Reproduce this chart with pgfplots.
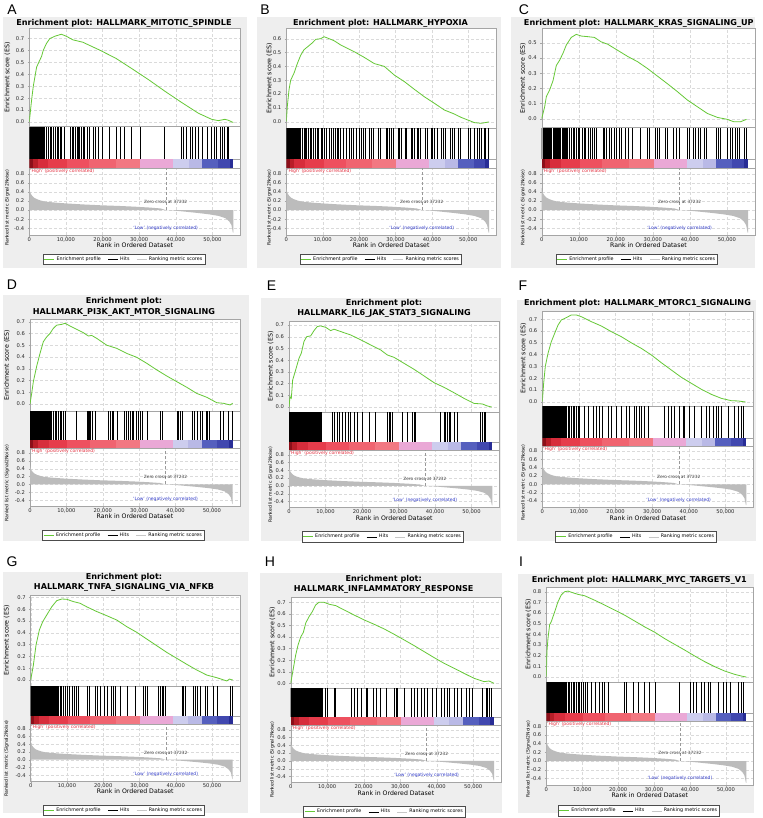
\documentclass[border=0pt]{standalone}
\usepackage{fontspec}
\setmainfont{DejaVu Sans}
\newfontfamily\letterfont{Liberation Sans}
\usepackage{pgfplots}
\usepackage{pgfplotstable}
\pgfplotsset{compat=1.18}

\definecolor{esgreen}{RGB}{102,200,55}
\definecolor{bggray}{RGB}{238,238,238}
\definecolor{framegray}{RGB}{165,165,165}
\definecolor{gridgray}{RGB}{218,218,218}
\definecolor{fillgray}{RGB}{188,188,188}
\definecolor{hired}{RGB}{228,50,65}
\definecolor{lowblue}{RGB}{50,60,200}
\definecolor{cbA}{RGB}{140,15,25}
\definecolor{cbB}{RGB}{185,30,40}
\definecolor{cbC}{RGB}{215,45,60}
\definecolor{cbD}{RGB}{230,60,75}
\definecolor{cbE}{RGB}{238,80,95}
\definecolor{cbF}{RGB}{240,100,112}
\definecolor{cbG}{RGB}{242,120,130}
\definecolor{cbH}{RGB}{234,168,214}
\definecolor{cbI}{RGB}{205,205,238}
\definecolor{cbJ}{RGB}{185,185,230}
\definecolor{cbK}{RGB}{85,95,190}
\definecolor{cbL}{RGB}{65,72,175}
\definecolor{cbM}{RGB}{40,45,150}

% ---------------- data (rank in ordered dataset, N = 55700) ----------------
\pgfplotstableread{
x y
0 0
0 0.49
150 0.42
410 0.36
820 0.31
1330 0.27
2050 0.24
3070 0.21
4100 0.19
5630 0.175
7680 0.16
10240 0.145
14340 0.125
19450 0.105
24580 0.09
28670 0.075
32770 0.055
35840 0.035
37232 0
39400 -0.01
42500 -0.035
46080 -0.065
49150 -0.095
51710 -0.13
53550 -0.18
54580 -0.25
55190 -0.33
55600 -0.5
55700 -0.5
55700 0
}\rankdata

\pgfplotstableread[row sep=\\]{x y\\0 0\\610 0.18\\1090 0.30\\1990 0.46\\2870 0.52\\3340 0.55\\3790 0.60\\4690 0.66\\5590 0.70\\6940 0.72\\8760 0.737\\10110 0.72\\11910 0.69\\14610 0.67\\19130 0.605\\23630 0.535\\28150 0.445\\32660 0.353\\37170 0.255\\41680 0.162\\46180 0.073\\49800 0.022\\51610 0.011\\53410 0.022\\54270 0.015\\55700 -0.005\\}\esA
\pgfplotstableread[row sep=\\]{x y\\0 0\\280 0.11\\740 0.23\\1200 0.30\\2110 0.35\\3030 0.42\\3950 0.48\\4860 0.52\\5790 0.54\\7170 0.57\\8080 0.595\\9460 0.60\\10380 0.614\\11760 0.60\\13140 0.585\\14970 0.554\\16800 0.53\\18650 0.506\\21400 0.465\\24160 0.42\\26910 0.40\\29670 0.337\\32420 0.29\\35170 0.234\\37930 0.18\\40680 0.133\\43440 0.084\\46200 0.055\\48030 0.031\\49870 0.012\\51710 -0.007\\53540 -0.012\\55700 -0.002\\}\esB
\pgfplotstableread[row sep=\\]{x y\\0 0\\810 0.08\\1250 0.145\\2150 0.19\\3050 0.25\\3940 0.35\\4840 0.385\\5730 0.43\\6640 0.485\\7980 0.535\\9320 0.555\\10660 0.544\\12450 0.54\\14240 0.535\\16040 0.506\\17830 0.49\\20520 0.45\\23200 0.41\\25900 0.375\\28580 0.33\\31270 0.28\\33960 0.23\\36650 0.178\\39330 0.123\\42020 0.079\\44710 0.035\\47400 0.009\\50080 -0.004\\51880 -0.02\\53670 -0.02\\55300 -0.004\\}\esC
\pgfplotstableread[row sep=\\]{x y\\0 0\\460 0.09\\920 0.19\\1830 0.32\\2750 0.43\\3670 0.53\\4580 0.57\\5500 0.60\\6410 0.643\\7330 0.67\\8700 0.677\\9630 0.686\\11000 0.663\\12830 0.635\\14660 0.606\\16040 0.578\\16960 0.583\\18330 0.558\\21080 0.50\\23830 0.473\\26580 0.43\\29330 0.397\\32080 0.346\\34830 0.29\\37580 0.238\\40320 0.19\\43080 0.142\\45820 0.09\\48580 0.057\\51320 0.011\\53160 0.006\\54990 -0.008\\55700 0.006\\}\esD
\pgfplotstableread[row sep=\\]{x y\\0 0\\280 0.088\\630 0.074\\1000 0.23\\1820 0.316\\2740 0.416\\3380 0.46\\4110 0.56\\4840 0.60\\5940 0.607\\6850 0.652\\7760 0.687\\8670 0.692\\10050 0.68\\11420 0.652\\12330 0.664\\14160 0.644\\16900 0.615\\19640 0.573\\22370 0.53\\25120 0.487\\26940 0.444\\28770 0.424\\31510 0.373\\34250 0.322\\37000 0.265\\39730 0.208\\42480 0.168\\45210 0.122\\47950 0.074\\50690 0.031\\52980 0.026\\54340 0.009\\55530 0\\}\esE
\pgfplotstableread[row sep=\\]{x y\\0 0\\370 0.156\\820 0.30\\1550 0.41\\2460 0.51\\3370 0.58\\4280 0.65\\5190 0.694\\6550 0.714\\7920 0.737\\9290 0.737\\10650 0.722\\13380 0.68\\16120 0.643\\18840 0.595\\21580 0.552\\24310 0.50\\27030 0.453\\29770 0.397\\32500 0.331\\35230 0.269\\37960 0.207\\40690 0.156\\43430 0.105\\46150 0.062\\48890 0.028\\51620 0.008\\53430 0.006\\55530 -0.003\\}\esF
\pgfplotstableread[row sep=\\]{x y\\0 0\\740 0.127\\1470 0.297\\2390 0.424\\3310 0.494\\4410 0.55\\5800 0.62\\7170 0.672\\8550 0.686\\9930 0.684\\11770 0.664\\13610 0.65\\15450 0.62\\18210 0.58\\20960 0.545\\23730 0.508\\26480 0.452\\29250 0.404\\32000 0.347\\34750 0.291\\37520 0.234\\40270 0.184\\43040 0.133\\45790 0.085\\48550 0.042\\51310 0.02\\54070 -0.008\\54800 0.008\\55700 0\\}\esG
\pgfplotstableread[row sep=\\]{x y\\0 0\\730 0.13\\1370 0.245\\2010 0.33\\2740 0.40\\3470 0.44\\4110 0.52\\5030 0.576\\5940 0.62\\6850 0.677\\7760 0.70\\9130 0.70\\10510 0.683\\12330 0.671\\14610 0.634\\17360 0.59\\20090 0.548\\22840 0.51\\25580 0.47\\28310 0.424\\31060 0.375\\33790 0.326\\36540 0.274\\39280 0.222\\42010 0.173\\44760 0.13\\47490 0.086\\50240 0.043\\52980 0.014\\54340 0.02\\55700 0\\}\esH
\pgfplotstableread[row sep=\\]{x y\\0 0\\180 0.24\\460 0.36\\930 0.49\\1390 0.52\\2320 0.61\\3250 0.706\\4180 0.77\\5110 0.80\\6040 0.806\\7430 0.79\\8830 0.775\\10680 0.762\\13470 0.72\\16250 0.675\\19040 0.628\\21820 0.58\\24620 0.525\\27400 0.47\\30190 0.42\\32970 0.36\\35760 0.306\\38540 0.253\\41330 0.197\\44110 0.144\\46900 0.097\\49680 0.056\\52470 0.025\\54330 0.009\\55700 0\\}\esI

\pgfplotstableread[row sep=\\]{x\\0\\150\\300\\450\\600\\750\\900\\1050\\1200\\1350\\1500\\1650\\1800\\1950\\2100\\2250\\2400\\2550\\2700\\2850\\3000\\3150\\3300\\3450\\3600\\3750\\3900\\4050\\4200\\4710\\5120\\5630\\6040\\6550\\7070\\7580\\7990\\8400\\8810\\9520\\11190\\11720\\12090\\12630\\12990\\13350\\13710\\14160\\14610\\15060\\15700\\16240\\17500\\18040\\18850\\20030\\21830\\23820\\24720\\25900\\27700\\30400\\36720\\41500\\42140\\42760\\43940\\44390\\45290\\46010\\47090\\48450\\49800\\50520\\51160\\52060\\52680\\53230\\54130\\54310\\}\hitsA
\pgfplotstableread[row sep=\\]{x\\0\\150\\300\\450\\600\\750\\900\\1050\\1200\\1350\\1500\\1650\\1800\\1950\\2100\\2250\\2400\\2550\\2700\\2850\\3000\\3150\\3300\\3450\\3950\\4400\\4860\\5320\\5600\\6060\\6520\\6890\\7440\\7900\\8360\\8820\\9460\\9920\\10380\\10830\\11760\\12400\\12950\\13320\\13860\\14230\\14790\\15710\\16450\\17170\\17730\\18370\\19110\\20020\\20480\\21130\\21680\\22780\\23420\\23970\\25260\\25810\\27370\\27830\\28290\\28940\\29480\\30770\\31140\\31510\\32600\\32970\\34260\\34720\\35170\\35910\\36370\\36830\\38120\\38680\\39770\\40230\\40690\\41420\\42530\\42990\\43630\\45100\\45650\\46020\\47310\\47850\\50060\\50620\\51720\\52450\\53090\\53560\\54290\\54750\\55400\\}\hitsB
\pgfplotstableread[row sep=\\]{x\\0\\300\\600\\900\\1200\\1500\\1800\\2100\\2400\\2700\\3000\\3300\\3600\\3900\\4200\\4500\\4800\\5100\\5400\\5700\\6000\\6300\\6600\\6900\\7530\\7980\\8430\\8870\\9320\\9770\\10220\\10840\\11380\\11830\\12450\\12990\\13530\\14070\\14790\\16490\\16940\\17470\\18100\\18730\\19450\\20070\\20790\\21410\\22490\\23390\\24550\\26520\\28410\\29030\\30560\\31090\\31720\\33240\\33960\\35480\\36200\\37100\\39160\\39780\\40950\\41570\\42200\\42920\\43990\\44530\\47220\\47760\\48290\\50080\\50800\\51440\\52150\\52780\\53400\\54740\\55190\\}\hitsC
\pgfplotstableread[row sep=\\]{x\\0\\200\\400\\600\\800\\1000\\1200\\1400\\1600\\1800\\2000\\2200\\2400\\2600\\2800\\3000\\3200\\3400\\3600\\3800\\4000\\4200\\4400\\4600\\4800\\5000\\5200\\5400\\5600\\5960\\6420\\6870\\7330\\7790\\8250\\8700\\9160\\9630\\12650\\15590\\16040\\16310\\16680\\16960\\17870\\21540\\22000\\22460\\22920\\23830\\25850\\26400\\27030\\27490\\27960\\28420\\29140\\29790\\30250\\30700\\32080\\35750\\36200\\40330\\40790\\41250\\41700\\44640\\45180\\45820\\46750\\47200\\48300\\48580\\49210\\52240\\52970\\54350\\55600\\}\hitsD
\pgfplotstableread[row sep=\\]{x\\0\\250\\500\\750\\1000\\1250\\1500\\1750\\2000\\2250\\2500\\2750\\3000\\3250\\3500\\3750\\4000\\4250\\4500\\4750\\5000\\5250\\5500\\5750\\6000\\6250\\6500\\6750\\7000\\7250\\7500\\7750\\8000\\8250\\8500\\8750\\11880\\12330\\13070\\13700\\14610\\15520\\16170\\16900\\17810\\18730\\20090\\21920\\23750\\26940\\27400\\27860\\28310\\31060\\32430\\33790\\34250\\34710\\41560\\42480\\42930\\43390\\43850\\44300\\45210\\46130\\52520\\52980\\53430\\53890\\}\hitsE
\pgfplotstableread[row sep=\\]{x\\0\\200\\400\\600\\800\\1000\\1200\\1400\\1600\\1800\\2000\\2200\\2400\\2600\\2800\\3000\\3200\\3400\\3600\\3800\\4000\\4200\\4400\\4600\\4800\\5000\\5200\\5400\\5600\\5800\\6000\\6200\\6400\\6600\\7010\\7460\\7920\\8380\\8830\\9290\\9740\\10200\\11560\\12470\\13830\\14750\\15660\\16290\\17930\\18840\\20210\\21580\\22940\\23850\\25220\\25670\\26580\\27030\\27940\\28860\\33410\\34320\\35230\\36140\\37510\\38420\\38870\\40230\\41610\\43430\\44790\\45700\\46610\\47520\\47970\\48890\\50710\\52530\\53430\\54340\\54800\\}\hitsF
\pgfplotstableread[row sep=\\]{x\\0\\200\\400\\600\\800\\1000\\1200\\1400\\1600\\1800\\2000\\2200\\2400\\2600\\2800\\3000\\3200\\3400\\3600\\3800\\4000\\4200\\4400\\4600\\4800\\5000\\5200\\5400\\5600\\5800\\6000\\6200\\6400\\6600\\6800\\7000\\7200\\7400\\7600\\8090\\8550\\9010\\9470\\9930\\10580\\11320\\11950\\12500\\13150\\15640\\16180\\17750\\18210\\19130\\20230\\20960\\22070\\22810\\23270\\24650\\26660\\28790\\31080\\31540\\32000\\35210\\35680\\36140\\36600\\37060\\41660\\42120\\42580\\44870\\45330\\45790\\46710\\48100\\48550\\50390\\51310\\54990\\55450\\}\hitsG
\pgfplotstableread[row sep=\\]{x\\0\\200\\400\\600\\800\\1000\\1200\\1400\\1600\\1800\\2000\\2200\\2400\\2600\\2800\\3000\\3200\\3400\\3600\\3800\\4000\\4200\\4400\\4600\\4800\\5000\\5200\\5400\\5600\\5800\\6000\\6200\\6400\\6600\\6800\\7000\\7200\\7400\\7600\\7800\\8000\\8200\\8400\\8600\\9590\\10050\\11880\\12140\\16450\\17360\\18270\\19180\\20550\\21010\\22650\\23300\\24480\\26030\\28310\\28770\\29220\\31060\\32880\\33790\\34710\\35620\\36540\\37450\\38820\\39730\\41100\\42010\\42930\\43390\\44760\\45670\\46580\\47950\\48860\\49780\\52520\\53430\\53890\\54340\\54810\\}\hitsH
\pgfplotstableread[row sep=\\]{x\\0\\180\\360\\540\\720\\900\\1080\\1260\\1440\\1620\\1800\\1980\\2160\\2340\\2520\\2700\\2880\\3060\\3240\\3420\\3600\\3780\\3960\\4140\\4320\\4500\\4680\\4860\\5040\\5220\\5400\\5580\\6040\\6500\\6960\\7430\\7900\\8360\\8830\\9290\\9750\\10220\\10860\\11430\\12530\\13650\\14860\\15610\\16250\\17180\\21820\\22290\\24150\\25540\\27400\\28790\\30190\\37150\\39940\\40870\\41800\\43190\\44110\\45050\\45510\\47830\\49220\\50150\\51090\\53400\\54330\\54790\\}\hitsI
\pgfplotstablecreatecol[create col/set={1}]{y}{\hitsA}
\pgfplotstablecreatecol[create col/set={1}]{y}{\hitsB}
\pgfplotstablecreatecol[create col/set={1}]{y}{\hitsC}
\pgfplotstablecreatecol[create col/set={1}]{y}{\hitsD}
\pgfplotstablecreatecol[create col/set={1}]{y}{\hitsE}
\pgfplotstablecreatecol[create col/set={1}]{y}{\hitsF}
\pgfplotstablecreatecol[create col/set={1}]{y}{\hitsG}
\pgfplotstablecreatecol[create col/set={1}]{y}{\hitsH}
\pgfplotstablecreatecol[create col/set={1}]{y}{\hitsI}

% ---------------- styles ----------------
\pgfplotsset{
 gsea/.style={scale only axis, anchor=north west, xmin=0, xmax=57650,
   axis background/.style={fill=white},
   axis line style={framegray, line width=0.4pt},
   tick style={framegray, line width=0.3pt}, major tick length=1.5pt,
   xtick pos=bottom, ytick pos=left, tick align=outside,
   /pgf/number format/assume math mode=true,
   ticklabel style={font=\fontsize{5.2}{5.5}\selectfont, text=black!85},
   scaled x ticks=false, scaled y ticks=false},
 esax/.style={gsea, xtick={0,10000,20000,30000,40000,50000}, xticklabels={},
   grid=major, grid style={gridgray, densely dashed, line width=0.3pt},
   yticklabel style={/pgf/number format/.cd, fixed, fixed zerofill, precision=1},
   ylabel={Enrichment score (ES)},
   ylabel style={font=\fontsize{6.3}{6.5}\selectfont, at={([xshift=-\YLX pt]axis description cs:0,0.5)}, anchor=center}},
 barax/.style={gsea, xtick=\empty, ytick=\empty},
 rkax/.style={gsea, ymin=-0.55, ymax=0.92, ytick={-0.4,-0.2,0,0.2,0.4,0.6,0.8},
   xtick={0,10000,20000,30000,40000,50000},
   xticklabel style={inner sep=0.8pt, /pgf/number format/.cd, fixed, 1000 sep={,}},
   yticklabel style={/pgf/number format/.cd, fixed, fixed zerofill, precision=1},
   grid=major, grid style={gridgray, densely dashed, line width=0.3pt},
   xlabel={Rank in Ordered Dataset}, xlabel style={font=\fontsize{6.2}{6.5}\selectfont, inner sep=0.3pt},
   ylabel={Ranked list metric (Signal2Noise)},
   ylabel style={font=\fontsize{4.6}{5}\selectfont, at={([xshift=-\YLX pt, yshift=-6pt]axis description cs:0,0.5)}, anchor=center},
   legend columns=3,
   legend image code/.code={\draw[#1] (0pt,0pt) -- (10pt,0pt);},
   legend style={draw=black!70, fill=white, font=\fontsize{4.8}{5.2}\selectfont, anchor=center, inner sep=0.6pt,
     /tikz/every even column/.append style={column sep=5pt}, cells={anchor=west}}},
}

\newcommand{\colorbarplots}{%
\addplot[fill=cbA,draw=none] coordinates {(0,0)(0,1)(920,1)(920,0)};
\addplot[fill=cbB,draw=none] coordinates {(920,0)(920,1)(2250,1)(2250,0)};
\addplot[fill=cbC,draw=none] coordinates {(2250,0)(2250,1)(5120,1)(5120,0)};
\addplot[fill=cbD,draw=none] coordinates {(5120,0)(5120,1)(10240,1)(10240,0)};
\addplot[fill=cbE,draw=none] coordinates {(10240,0)(10240,1)(16380,1)(16380,0)};
\addplot[fill=cbF,draw=none] coordinates {(16380,0)(16380,1)(23550,1)(23550,0)};
\addplot[fill=cbG,draw=none] coordinates {(23550,0)(23550,1)(30200,1)(30200,0)};
\addplot[fill=cbH,draw=none] coordinates {(30200,0)(30200,1)(39200,1)(39200,0)};
\addplot[fill=cbI,draw=none] coordinates {(39200,0)(39200,1)(43500,1)(43500,0)};
\addplot[fill=cbJ,draw=none] coordinates {(43500,0)(43500,1)(47150,1)(47150,0)};
\addplot[fill=cbK,draw=none] coordinates {(47150,0)(47150,1)(51500,1)(51500,0)};
\addplot[fill=cbL,draw=none] coordinates {(51500,0)(51500,1)(54700,1)(54700,0)};
\addplot[fill=cbM,draw=none] coordinates {(54700,0)(54700,1)(55700,1)(55700,0)};
}

\newcommand{\setpanel}[9]{\def\pL{#1}\def\pR{#2}\def\pTa{#3}\def\pTb{#4}\def\pTc{#5}\def\pTd{#6}\def\pTe{#7}\def\ESmin{#8}\def\ESmax{#9}}

\newcommand{\drawpanel}[3]{%
\pgfmathsetlengthmacro\Wd{(\pR-\pL)*1.035009}%
\pgfmathsetlengthmacro\Ha{\pTb-\pTa}%
\pgfmathsetlengthmacro\Hb{\pTc-\pTb}%
\pgfmathsetlengthmacro\Hc{\pTd-\pTc}%
\pgfmathsetlengthmacro\Hd{\pTe-\pTd}%
\pgfmathsetmacro\legx{(\PC-\pL)/((\pR-\pL)*1.035009)}%
\pgfmathsetmacro\legy{-(\LY-\pTe)/(\pTe-\pTd)}%
\begin{axis}[esax, at={(\pL pt,-\pTa pt)}, width=\Wd, height=\Ha, ymin=\ESmin, ymax=\ESmax, ytick={#3}]
\addplot[esgreen, line width=0.8pt] table[x=x,y=y]{#1};
\end{axis}
\begin{axis}[barax, at={(\pL pt,-\pTb pt)}, width=\Wd, height=\Hb, ymin=0, ymax=1]
\addplot[ycomb, black, line width=0.42pt, mark=none] table[x=x, y=y]{#2};
\end{axis}
\begin{axis}[barax, at={(\pL pt,-\pTc pt)}, width=\Wd, height=\Hc, ymin=0, ymax=1]
\colorbarplots
\end{axis}
\begin{axis}[rkax, at={(\pL pt,-\pTd pt)}, width=\Wd, height=\Hd, legend style={at={(\legx,\legy)}}]
\addplot[fill=fillgray, draw=none, forget plot] table[x=x,y=y]{\rankdata};
\addplot[densely dashed, black!40, line width=0.3pt, forget plot] coordinates {(37232,0) (37232,0.92)};
\node[anchor=north west, text=hired, font=\fontsize{4.5}{4.5}\selectfont, inner sep=0.6pt] at (rel axis cs:0,1) {`High' (positively correlated)};
\node[text=black!75, font=\fontsize{4.3}{4.3}\selectfont, inner sep=0pt] at (axis cs:37232,0.18) {Zero cross at 37232};
\node[anchor=south, text=lowblue, font=\fontsize{4.5}{4.5}\selectfont, inner sep=0pt, yshift=4.5pt] at (axis cs:37232,-0.55) {`Low' (negatively correlated)};
\addlegendimage{esgreen, line width=0.8pt}\addlegendentry{Enrichment profile}
\addlegendimage{black, line width=0.4pt}\addlegendentry{Hits}
\addlegendimage{black!22, line width=0.4pt}\addlegendentry{Ranking metric scores}
\end{axis}
}

\begin{document}
\begin{tikzpicture}[x=1pt,y=1pt]
\useasboundingbox (0,0) rectangle (762,-818);
% panel backgrounds
\fill[bggray] (3,-17) rectangle (247,-268);
\fill[bggray] (257.3,-17) rectangle (501,-268);
\fill[bggray] (511.3,-17) rectangle (755,-268);
\fill[bggray] (3,-295) rectangle (249,-541);
\fill[bggray] (261.3,-298.3) rectangle (501,-541);
\fill[bggray] (517,-300) rectangle (756,-541);
\fill[bggray] (2.7,-571.7) rectangle (248,-813);
\fill[bggray] (260,-573.3) rectangle (502,-813);
\fill[bggray] (518,-574.3) rectangle (754,-813);
% panel letters
\tikzset{pletter/.style={font=\letterfont\fontsize{14}{14}\selectfont, inner sep=0pt}}
\node[pletter] at (12,-10) {A};
\node[pletter] at (265,-10) {B};
\node[pletter] at (524,-10) {C};
\node[pletter] at (12,-285) {D};
\node[pletter] at (271.5,-286) {E};
\node[pletter] at (523,-286) {F};
\node[pletter] at (12,-562) {G};
\node[pletter] at (270,-562) {H};
\node[pletter] at (521,-562) {I};
% titles
\tikzset{ptitle/.style={font=\fontsize{8.1}{9}\selectfont\bfseries, inner sep=0pt}}
\node[ptitle] at (124,-23) {Enrichment plot: HALLMARK\_MITOTIC\_SPINDLE};
\node[ptitle] at (380.5,-23) {Enrichment plot: HALLMARK\_HYPOXIA};
\node[ptitle] at (638.8,-23) {Enrichment plot: HALLMARK\_KRAS\_SIGNALING\_UP};
\node[ptitle] at (124,-301) {Enrichment plot:};
\node[ptitle] at (124,-312.3) {HALLMARK\_PI3K\_AKT\_MTOR\_SIGNALING};
\node[ptitle] at (384,-303.3) {Enrichment plot:};
\node[ptitle] at (384,-313.3) {HALLMARK\_IL6\_JAK\_STAT3\_SIGNALING};
\node[ptitle] at (637.5,-303.3) {Enrichment plot: HALLMARK\_MTORC1\_SIGNALING};
\node[ptitle] at (124,-577.3) {Enrichment plot:};
\node[ptitle] at (124,-587.7) {HALLMARK\_TNFA\_SIGNALING\_VIA\_NFKB};
\node[ptitle] at (383.7,-579) {Enrichment plot:};
\node[ptitle] at (383.7,-589.3) {HALLMARK\_INFLAMMATORY\_RESPONSE};
\node[ptitle] at (639.3,-580) {Enrichment plot: HALLMARK\_MYC\_TARGETS\_V1};
% panels
\setpanel{29.3}{233.3}{28.3}{126.7}{159.3}{168.3}{235}{-0.04}{0.787}\def\PC{124}\def\LY{259}\def\YLX{22}
\drawpanel{\esA}{\hitsA}{0,0.1,0.2,0.3,0.4,0.5,0.6,0.7}
\setpanel{286.3}{489}{28.3}{128.3}{159.3}{168.3}{235}{-0.048}{0.675}\def\PC{380.7}\def\LY{259}\def\YLX{17}
\drawpanel{\esB}{\hitsB}{0,0.1,0.2,0.3,0.4,0.5,0.6}
\setpanel{541.7}{748}{28.3}{127.7}{159.3}{168.3}{235}{-0.059}{0.595}\def\PC{636.8}\def\LY{259}\def\YLX{18.7}
\drawpanel{\esC}{\hitsC}{0,0.1,0.2,0.3,0.4,0.5}
\setpanel{30}{232.7}{319.3}{410.7}{440}{448.3}{506}{-0.057}{0.72}\def\PC{123.5}\def\LY{535}\def\YLX{23}
\drawpanel{\esD}{\hitsD}{0,0.1,0.2,0.3,0.4,0.5,0.6,0.7}
\setpanel{289}{492.3}{321}{411.7}{441.7}{450}{507.3}{-0.04}{0.734}\def\PC{382.7}\def\LY{536.7}\def\YLX{18.3}
\drawpanel{\esE}{\hitsE}{0,0.1,0.2,0.3,0.4,0.5,0.6,0.7}
\setpanel{542.3}{746.3}{310.7}{406}{437.7}{446}{507.3}{-0.037}{0.773}\def\PC{635.8}\def\LY{536.7}\def\YLX{19}
\drawpanel{\esF}{\hitsF}{0,0.1,0.2,0.3,0.4,0.5,0.6,0.7}
\setpanel{30.7}{232.7}{595}{685.7}{715.7}{724}{781}{-0.048}{0.72}\def\PC{123.8}\def\LY{810}\def\YLX{24}
\drawpanel{\esG}{\hitsG}{0,0.1,0.2,0.3,0.4,0.5,0.6,0.7}
\setpanel{290.7}{494}{596.7}{687.7}{717.3}{725}{782.3}{-0.038}{0.748}\def\PC{384.5}\def\LY{811.7}\def\YLX{18.4}
\drawpanel{\esH}{\hitsH}{0,0.1,0.2,0.3,0.4,0.5,0.6,0.7}
\setpanel{546.3}{746.3}{586.7}{681.7}{712.7}{721}{785}{-0.044}{0.847}\def\PC{638.8}\def\LY{810.7}\def\YLX{18}
\drawpanel{\esI}{\hitsI}{0,0.1,0.2,0.3,0.4,0.5,0.6,0.7,0.8}
\end{tikzpicture}
\end{document}
